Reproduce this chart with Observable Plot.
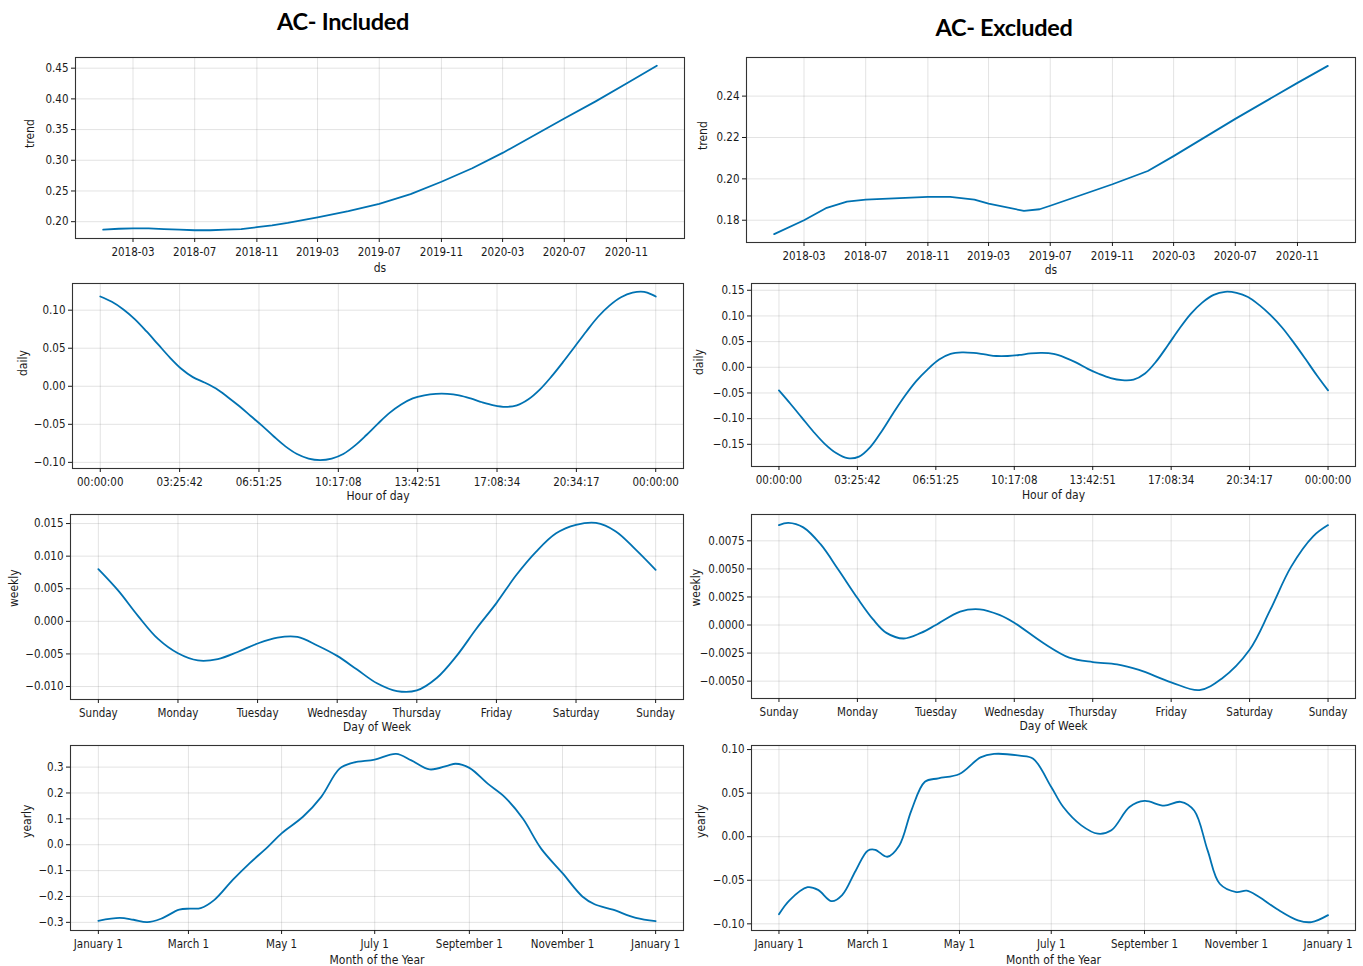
<!DOCTYPE html>
<html><head><meta charset="utf-8">
<script src="https://cdn.jsdelivr.net/npm/d3@7"></script>
<script src="https://cdn.jsdelivr.net/npm/@observablehq/plot@0.6"></script>
<style>
html,body{margin:0;padding:0;background:#fff;}
#root{position:relative;width:1363px;height:966px;overflow:hidden;background:#fff;}
.title{position:absolute;font-family:Lato,'Open Sans',sans-serif;font-weight:bold;font-size:23.5px;color:#000;transform:translate(-50%,-50%);white-space:nowrap;letter-spacing:-0.3px;}
svg.panel{position:absolute;}
</style></head><body><div id="root"></div>
<script>
const titles = ["AC- Included", "AC- Excluded"];

// ---- trend ----
const trendIncDates = ["2018-01-01","2018-02-01","2018-03-01","2018-04-01","2018-05-01","2018-06-01","2018-07-01","2018-08-01","2018-09-01","2018-10-01","2018-11-01","2018-12-01","2019-01-01","2019-03-01","2019-05-01","2019-07-01","2019-09-01","2019-11-01","2020-01-01","2020-03-01","2020-05-01","2020-07-01","2020-09-01","2020-11-01","2020-12-31"];
const trendIncValues = [0.187,0.1885,0.189,0.189,0.188,0.187,0.186,0.186,0.187,0.188,0.191,0.194,0.198,0.207,0.217,0.229,0.245,0.265,0.287,0.312,0.340,0.368,0.396,0.425,0.454];
const trendExcDates = ["2018-01-01","2018-03-01","2018-04-15","2018-05-25","2018-07-01","2018-11-01","2018-12-15","2019-02-01","2019-03-01","2019-05-10","2019-06-10","2019-07-01","2019-11-01","2020-01-10","2020-03-01","2020-07-01","2020-11-01","2020-12-31"];
const trendExcValues = [0.1733,0.180,0.186,0.189,0.190,0.1913,0.1913,0.190,0.188,0.1845,0.1853,0.187,0.1974,0.2038,0.211,0.229,0.2464,0.2546];
const trendTicks = ["2018-03-01","2018-07-01","2018-11-01","2019-03-01","2019-07-01","2019-11-01","2020-03-01","2020-07-01","2020-11-01"];

// ---- daily ----
const dayHours = [0,0.5,1,1.5,2,2.5,3,3.5,4,4.5,5,5.5,6,6.5,7,7.5,8,8.5,9,9.5,10,10.5,11,11.5,12,12.5,13,13.5,14,14.5,15,15.5,16,16.5,17,17.5,18,18.5,19,19.5,20,20.5,21,21.5,22,22.5,23,23.5,24];
const dailyIncValues = [0.118,0.111,0.101,0.088,0.072,0.055,0.038,0.023,0.012,0.005,-0.003,-0.014,-0.026,-0.039,-0.052,-0.066,-0.079,-0.089,-0.095,-0.097,-0.095,-0.089,-0.078,-0.064,-0.049,-0.035,-0.024,-0.016,-0.012,-0.010,-0.010,-0.012,-0.016,-0.021,-0.025,-0.027,-0.025,-0.017,-0.004,0.013,0.032,0.052,0.072,0.091,0.106,0.117,0.123,0.124,0.118];
const dailyExcValues = [-0.045,-0.071,-0.098,-0.125,-0.149,-0.167,-0.177,-0.174,-0.155,-0.124,-0.089,-0.056,-0.027,-0.004,0.015,0.026,0.029,0.028,0.025,0.022,0.022,0.024,0.027,0.028,0.026,0.019,0.009,-0.003,-0.013,-0.021,-0.025,-0.024,-0.012,0.012,0.043,0.075,0.104,0.126,0.141,0.147,0.145,0.137,0.121,0.101,0.077,0.048,0.017,-0.015,-0.045];
const hourTicks = [0,3.428571,6.857143,10.285714,13.714286,17.142857,20.571429,24];
const hourTickLabels = ["00:00:00","03:25:42","06:51:25","10:17:08","13:42:51","17:08:34","20:34:17","00:00:00"];

// ---- weekly ----
const weekIncDays = [0,0.25,0.5,0.75,1,1.25,1.5,1.75,2,2.25,2.5,2.75,3,3.25,3.5,3.75,4,4.25,4.5,4.75,5,5.25,5.5,5.75,6,6.25,6.5,6.75,7];
const weekIncValues = [0.0080,0.0047,0.0008,-0.0027,-0.0049,-0.0060,-0.0058,-0.0047,-0.0034,-0.0025,-0.0024,-0.0037,-0.0053,-0.0074,-0.0095,-0.0107,-0.0106,-0.0087,-0.0053,-0.0011,0.0028,0.0071,0.0107,0.0135,0.0148,0.0151,0.0138,0.0110,0.0079];
const weekExcDays = [0,0.12,0.31,0.53,0.76,1.0,1.2,1.37,1.59,1.81,2.0,2.31,2.56,2.81,3.0,3.37,3.7,4.0,4.31,4.59,5.0,5.36,5.64,6.0,6.26,6.53,6.81,7];
const weekExcValues = [0.0089,0.0091,0.0087,0.0072,0.0049,0.0024,0.0005,-0.0007,-0.0012,-0.0007,0.0000,0.0012,0.0014,0.0009,0.0002,-0.0016,-0.0029,-0.0033,-0.0035,-0.0040,-0.0051,-0.0058,-0.0048,-0.0022,0.0013,0.0052,0.0079,0.0089];
const weekTicks = [0,1,2,3,4,5,6,7];
const weekTickLabels = ["Sunday","Monday","Tuesday","Wednesday","Thursday","Friday","Saturday","Sunday"];

// ---- yearly ----
const yearIncDays = [0,14,23,32,41,53,60,67,76,88,99,111,120,134,146,158,167,181,195,205,217,229,234,243,255,266,278,290,304,317,325,337,352,365];
const yearIncValues = [-0.294,-0.283,-0.290,-0.299,-0.286,-0.251,-0.247,-0.245,-0.213,-0.136,-0.072,-0.008,0.044,0.108,0.185,0.294,0.317,0.329,0.351,0.326,0.291,0.306,0.313,0.297,0.236,0.185,0.101,-0.015,-0.110,-0.200,-0.230,-0.251,-0.283,-0.295];
const yearExcDays = [0,7,19,26,35,42,51,59,64,72,80,88,97,106,120,134,143,160,169,181,189,201,212,221,233,243,256,267,276,285,293,304,311,319,331,345,354,365];
const yearExcValues = [-0.089,-0.073,-0.058,-0.061,-0.074,-0.067,-0.039,-0.016,-0.015,-0.023,-0.010,0.030,0.063,0.067,0.072,0.091,0.095,0.093,0.0895,0.057,0.034,0.013,0.0034,0.0073,0.034,0.041,0.0356,0.040,0.030,-0.016,-0.054,-0.0635,-0.062,-0.069,-0.083,-0.096,-0.098,-0.090];
const monthTicks = [0,59,120,181,243,304,365];
const monthTickLabels = ["January 1","March 1","May 1","July 1","September 1","November 1","January 1"];

const root = document.getElementById("root");
const LINE = "#0072B2";
const FONT = "'DejaVu Sans Condensed','DejaVu Sans',sans-serif";

function pad(ext){const r = ext[1]-ext[0]; return [ext[0]-r*0.05, ext[1]+r*0.05];}

function panel(c){
  const [L,R,T,B] = c.frame;
  const mL=80,mR=12,mT=12,mB=45;
  const isDate = c.xType === "utc";
  const xs = isDate ? c.xs.map(d=>new Date(d)) : c.xs;
  const data = xs.map((x,i)=>({x, y:c.ys[i]}));
  let xDom = pad(d3.extent(xs, d=>+d));
  if (isDate) xDom = xDom.map(v=>new Date(v));
  const yDom = pad(d3.extent(c.ys));
  const xTicks = isDate ? c.xTicks.map(d=>new Date(d)) : c.xTicks;
  const xFmt = c.xLabels ? (d => c.xLabels[c.xTicks.findIndex(t=>Math.abs(t-d)<1e-6)]) : c.xFormat;
  const yFmt = d3.format(c.yFmt);
  const svg = Plot.plot({
    width: R-L+mL+mR, height: B-T+mT+mB,
    marginLeft:mL, marginRight:mR, marginTop:mT, marginBottom:mB,
    style:{fontFamily:FONT, fontSize:"11.5px", color:"#1a1a1a", background:"none", overflow:"visible"},
    x:{type: isDate ? "utc" : "linear", domain:xDom, label:null},
    y:{domain:yDom, label:null},
    marks:[
      Plot.gridX(xTicks, {stroke:"#808080", strokeOpacity:0.22, strokeWidth:1}),
      Plot.gridY(c.yTicks, {stroke:"#808080", strokeOpacity:0.22, strokeWidth:1}),
      Plot.line(data, {x:"x", y:"y", stroke:LINE, strokeWidth:1.8, curve:c.curve || "catmull-rom"}),
      Plot.frame({stroke:"#333", strokeWidth:1.1}),
      Plot.axisX(xTicks, {tickFormat:xFmt, tickSize:4, tickPadding:5, fontSize:11.5}),
      Plot.axisY(c.yTicks, {tickFormat:yFmt, tickSize:4, tickPadding:3, fontSize:11.5}),
      Plot.text([c.xLabel], {text:d=>d, frameAnchor:"bottom", dy:c.xLabelDy, fontSize:12, fill:"#1a1a1a"}),
      Plot.text([c.yLabel], {text:d=>d, frameAnchor:"left", dx:c.yLabelDx, rotate:-90, fontSize:12, fill:"#1a1a1a"})
    ]
  });
  svg.classList.add("panel");
  svg.style.left = (L-mL)+"px";
  svg.style.top = (T-mT)+"px";
  root.appendChild(svg);
}

// titles
[[titles[0],343,21],[titles[1],1004,27]].forEach(([t,x,y])=>{
  const d=document.createElement("div"); d.className="title"; d.textContent=t;
  d.style.left=x+"px"; d.style.top=y+"px"; root.appendChild(d);
});

const trendFmt = d3.utcFormat("%Y-%m");

panel({frame:[75,684,57,238], xType:"utc", xs:trendIncDates, ys:trendIncValues, xTicks:trendTicks, xFormat:trendFmt,
  yTicks:[0.20,0.25,0.30,0.35,0.40,0.45], yFmt:".2f", xLabel:"ds", yLabel:"trend", xLabelDy:33, yLabelDx:-45, curve:"linear"});
panel({frame:[746,1355,57,242], xType:"utc", xs:trendExcDates, ys:trendExcValues, xTicks:trendTicks, xFormat:trendFmt,
  yTicks:[0.18,0.20,0.22,0.24], yFmt:".2f", xLabel:"ds", yLabel:"trend", xLabelDy:31, yLabelDx:-43, curve:"linear"});

panel({frame:[72,683,283,468], xs:dayHours, ys:dailyIncValues, xTicks:hourTicks, xLabels:hourTickLabels,
  yTicks:[-0.10,-0.05,0,0.05,0.10], yFmt:".2f", xLabel:"Hour of day", yLabel:"daily", xLabelDy:31, yLabelDx:-49});
panel({frame:[751,1355,283,466], xs:dayHours, ys:dailyExcValues, xTicks:hourTicks, xLabels:hourTickLabels,
  yTicks:[-0.15,-0.10,-0.05,0,0.05,0.10,0.15], yFmt:".2f", xLabel:"Hour of day", yLabel:"daily", xLabelDy:32, yLabelDx:-52});

panel({frame:[70,683,514,699], xs:weekIncDays, ys:weekIncValues, xTicks:weekTicks, xLabels:weekTickLabels,
  yTicks:[-0.010,-0.005,0,0.005,0.010,0.015], yFmt:".3f", xLabel:"Day of Week", yLabel:"weekly", xLabelDy:31, yLabelDx:-56});
panel({frame:[751,1355,514,698], xs:weekExcDays, ys:weekExcValues, xTicks:weekTicks, xLabels:weekTickLabels,
  yTicks:[-0.005,-0.0025,0,0.0025,0.005,0.0075], yFmt:".4f", xLabel:"Day of Week", yLabel:"weekly", xLabelDy:31, yLabelDx:-55});

panel({frame:[70,683,745,930], xs:yearIncDays, ys:yearIncValues, xTicks:monthTicks, xLabels:monthTickLabels,
  yTicks:[-0.3,-0.2,-0.1,0,0.1,0.2,0.3], yFmt:".1f", xLabel:"Month of the Year", yLabel:"yearly", xLabelDy:33, yLabelDx:-43});
panel({frame:[751,1355,745,930], xs:yearExcDays, ys:yearExcValues, xTicks:monthTicks, xLabels:monthTickLabels,
  yTicks:[-0.10,-0.05,0,0.05,0.10], yFmt:".2f", xLabel:"Month of the Year", yLabel:"yearly", xLabelDy:33, yLabelDx:-50});
</script></body></html>
